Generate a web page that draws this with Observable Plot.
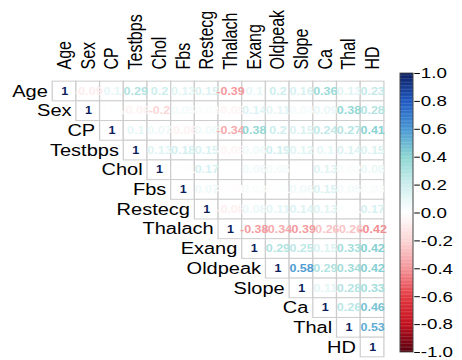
<!DOCTYPE html>
<html>
<head>
<meta charset="utf-8">
<script src="https://cdn.jsdelivr.net/npm/d3@7"></script>
<script src="https://cdn.jsdelivr.net/npm/@observablehq/plot@0.6"></script>
<style>
  html, body { margin: 0; padding: 0; background: white; }
  #wrap { position: relative; width: 462px; height: 360px; overflow: hidden; }
  #wrap svg { position: absolute; left: 0; top: 0; }
</style>
</head>
<body>
<div id="wrap"></div>
<script>
// ---- data ----
const vars = ["Age","Sex","CP","Testbps","Chol","Fbs","Restecg","Thalach","Exang","Oldpeak","Slope","Ca","Thal","HD"];
// upper-triangle correlations, each row starts at its diagonal
const rAge     = [1, -0.09, 0.10, 0.29, 0.20, 0.13, 0.15, -0.39, 0.10, 0.20, 0.16, 0.36, 0.13, 0.23];
const rSex     = [1, 0.01, -0.06, -0.20, 0.05, 0.02, -0.05, 0.14, 0.11, 0.04, 0.09, 0.38, 0.28];
const rCP      = [1, 0.10, 0.07, -0.06, 0.06, -0.34, 0.38, 0.20, 0.15, 0.24, 0.27, 0.41];
const rTestbps = [1, 0.13, 0.18, 0.15, -0.05, 0.06, 0.19, 0.12, 0.10, 0.14, 0.15];
const rChol    = [1, 0.01, 0.17, 0.00, 0.06, 0.05, 0.00, 0.13, 0.02, 0.08];
const rFbs     = [1, 0.07, -0.01, 0.03, 0.01, 0.06, 0.15, 0.05, 0.03];
const rRestecg = [1, -0.08, 0.08, 0.11, 0.14, 0.13, 0.01, 0.17];
const rThalach = [1, -0.38, -0.34, -0.39, -0.26, -0.26, -0.42];
const rExang   = [1, 0.29, 0.25, 0.15, 0.33, 0.42];
const rOldpeak = [1, 0.58, 0.29, 0.34, 0.42];
const rSlope   = [1, 0.11, 0.28, 0.33];
const rCa      = [1, 0.26, 0.46];
const rThal    = [1, 0.53];
const rHD      = [1];
const barTicks = [-1.0, -0.8, -0.6, -0.4, -0.2, 0.0, 0.2, 0.4, 0.6, 0.8, 1.0];
const colorStops = [-1, -0.8, -0.6, -0.4, -0.2, 0, 0.2, 0.4, 0.6, 0.8, 1];
const colorRange = ["#55000f", "#c3101e", "#e43a42", "#f4969a", "#fcd6d6", "#ffffff",
                    "#cdeeee", "#8cd6d2", "#4897d4", "#1f58c2", "#0a1d5e"];

const rows = [rAge, rSex, rCP, rTestbps, rChol, rFbs, rRestecg, rThalach, rExang, rOldpeak, rSlope, rCa, rThal, rHD];
const cells = rows.flatMap((arr, i) => arr.map((v, k) => ({row: vars[i], col: vars[i + k], value: v})));
const fmt = v => String(+v.toFixed(2));

// ---- layout (internal coords, stretched horizontally by S) ----
const S = 1.25;
const W = 462 / S;
const font = "'Liberation Sans', Arial, Helvetica, sans-serif";
const x0 = 52.2 / S, x1 = 383.9 / S;
const bw = (x1 - x0) / vars.length;

const main = Plot.plot({
  width: W, height: 360,
  marginTop: 69, marginLeft: 0, marginRight: 0, marginBottom: 0,
  x: {domain: vars, range: [x0, x1], padding: 0, round: false, axis: null},
  y: {domain: vars, range: [81.15, 356.85], padding: 0, round: false, axis: null},
  color: {type: "linear", domain: colorStops, range: colorRange},
  style: {fontFamily: font, fontSize: "16px", background: "white", color: "black"},
  marks: [
    Plot.cell(cells, {x: "col", y: "row", fill: "white", stroke: "#cdcdcd", strokeWidth: 1, inset: 0}),
    Plot.text(cells, {x: "col", y: "row", text: d => fmt(d.value), fill: "value",
                      fontSize: 10, fontWeight: "bold"}),
    Plot.text(vars, {x: d => d, y: d => d, text: d => d, textAnchor: "end",
                     dx: -(bw / 2 + 4), fontSize: 16, fill: "black"}),
    Plot.text(vars, {x: d => d, text: d => d, frameAnchor: "top", rotate: -90,
                     textAnchor: "start", lineAnchor: "middle", fontSize: 16, fill: "black"})
  ]
});

const grad = d3.range(-1, 1, 0.01);
const barL = 400 / S, barR = 413 / S;
const bar = Plot.plot({
  width: W, height: 360,
  marginTop: 0, marginBottom: 0, marginLeft: 0, marginRight: W - barR,
  x: {domain: [0, 1], range: [barL, barR], axis: null},
  y: {domain: [-1, 1], range: [352, 73], axis: "right", ticks: barTicks,
      tickFormat: d => d.toFixed(1), tickSize: 4.5, tickPadding: 1.2, label: null},
  color: {type: "linear", domain: colorStops, range: colorRange},
  style: {fontFamily: font, fontSize: "15px", background: "transparent", color: "black"},
  marks: [
    Plot.rect(grad, {x1: d => 0, x2: d => 1, y1: d => d, y2: d => Math.min(1, d + 0.012),
                     fill: d => d + 0.005}),
    Plot.rect([0], {x1: d => 0, x2: d => 1, y1: d => -1, y2: d => 1,
                    fill: "none", stroke: "#444", strokeWidth: 0.8})
  ]
});

const wrap = document.getElementById("wrap");
for (const svg of [main, bar]) {
  svg.setAttribute("width", 462);
  svg.setAttribute("height", 360);
  svg.setAttribute("viewBox", `0 0 ${W} 360`);
  svg.setAttribute("preserveAspectRatio", "none");
  svg.style.width = "462px";
  svg.style.height = "360px";
  svg.style.maxWidth = "none";
  wrap.appendChild(svg);
}
bar.style.background = "transparent";
</script>
</body>
</html>
